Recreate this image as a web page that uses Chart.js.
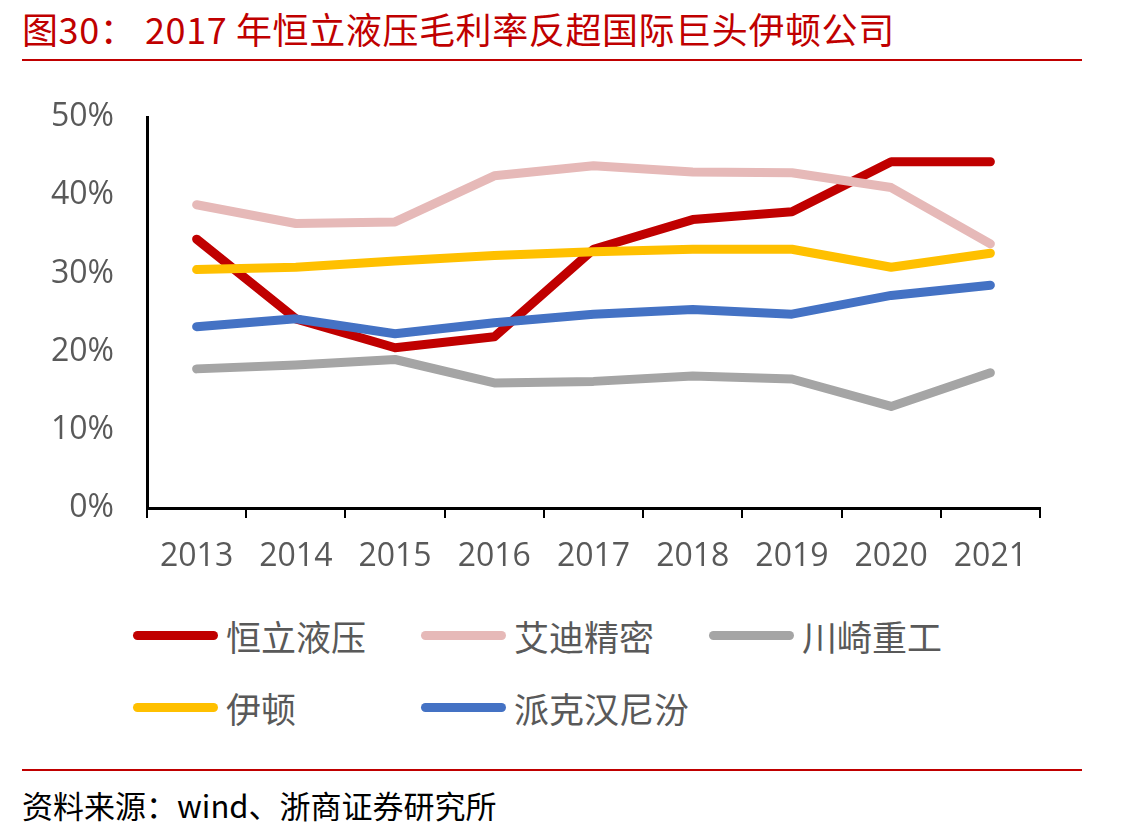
<!DOCTYPE html>
<html>
<head>
<meta charset="utf-8">
<script src="https://cdn.jsdelivr.net/npm/chart.js@4/dist/chart.umd.min.js"></script>
<style>
  body { margin: 0; width: 1141px; height: 838px; background: #fff; position: relative; overflow: hidden; }
  #title { position: absolute; left: 22px; top: 2px; color: #c00000; font-family: "Noto Sans CJK SC"; font-size: 36px; white-space: nowrap; letter-spacing: 0.6px; }
  .rule { position: absolute; left: 22px; width: 1060px; height: 2px; background: #c00000; }
  #wrap { position: absolute; left: 0; top: 65px; width: 1141px; height: 535px; }
  #legend { position: absolute; left: 0; top: 610px; width: 1141px; }
  .item { position: absolute; display: flex; align-items: center; height: 50px; }
  .swatch { width: 85px; height: 9px; border-radius: 5px; margin-right: 8px; }
  .label { font-family: "Noto Sans CJK SC"; font-size: 35px; color: #595959; }
  #source { position: absolute; left: 22px; top: 782px; font-family: "Noto Sans CJK SC"; font-size: 31px; color: #000; white-space: nowrap; }
</style>
</head>
<body>
<div id="title">图30： 2017 年恒立液压毛利率反超国际巨头伊顿公司</div>
<div class="rule" style="top:59px"></div>
<div id="wrap"><canvas id="chart"></canvas></div>
<div id="legend"></div>
<div class="rule" style="top:769px"></div>
<div id="source">资料来源：wind、浙商证券研究所</div>
<script>
window.onload = function () {
    // categories
    var years = ['2013', '2014', '2015', '2016', '2017', '2018', '2019', '2020', '2021']

    // gross margin, %
    var hengli = [34.4, 24.2, 20.5, 21.9, 33.1, 36.9, 37.9, 44.3, 44.3]
    var aidi = [38.8, 36.4, 36.6, 42.5, 43.8, 43.0, 42.9, 41.0, 33.8]
    var kawasaki = [17.8, 18.3, 19.0, 16.0, 16.2, 16.9, 16.5, 13.0, 17.3]
    var eaton = [30.5, 30.8, 31.6, 32.3, 32.8, 33.1, 33.1, 30.8, 32.6]
    var parker = [23.2, 24.2, 22.3, 23.7, 24.8, 25.4, 24.8, 27.2, 28.5]

    var names = ['恒立液压', '艾迪精密', '川崎重工', '伊顿', '派克汉尼汾']
    var colors = ['#c00000', '#e6b9b8', '#a5a5a5', '#ffc000', '#4472c4']
    var series = [hengli, aidi, kawasaki, eaton, parker]

    var datasets = []
    for (let i = 0; i < series.length; i++) {
        datasets.push({
            label: names[i],
            data: series[i],
            borderColor: colors[i],
            backgroundColor: colors[i],
            borderWidth: 9,
            borderCapStyle: 'round',
            borderJoinStyle: 'round',
            pointRadius: 0,
            tension: 0,
            order: series.length - i
        })
    }

    var tickFont = { family: 'Open Sans', size: 32 }

    var ctx = document.getElementById('chart').getContext('2d')
    var chart = new Chart(ctx, {
        type: 'line',
        data: { labels: years, datasets: datasets },
        options: {
            responsive: true,
            maintainAspectRatio: false,
            animation: false,
            layout: { padding: { top: 0, right: 101, bottom: 0, left: 0 } },
            plugins: { legend: { display: false }, tooltip: { enabled: false } },
            scales: {
                x: {
                    offset: true,
                    grid: { display: true, offset: true, drawOnChartArea: false, drawTicks: true, tickLength: 10, color: '#000', lineWidth: 2 },
                    border: { display: true, color: '#000', width: 3 },
                    ticks: { color: '#595959', font: tickFont, padding: 20, maxRotation: 0, autoSkip: false },
                    afterFit: function (s) { s.height = 92 }
                },
                y: {
                    min: 0,
                    max: 50,
                    grid: { display: false, drawTicks: false },
                    border: { display: true, color: '#000', width: 3 },
                    ticks: { stepSize: 10, color: '#595959', font: tickFont, padding: 33, callback: function (v) { return v + '%' } },
                    afterFit: function (s) { s.width = 147 }
                }
            }
        }
    })

    // legend, 3 per row
    var legend = document.getElementById('legend')
    var colX = [133, 421, 709]
    var rowY = [0, 72]
    for (let i = 0; i < names.length; i++) {
        let item = document.createElement('div')
        item.className = 'item'
        item.style.left = colX[i % 3] + 'px'
        item.style.top = rowY[Math.floor(i / 3)] + 'px'
        item.innerHTML = '<div class="swatch" style="background:' + colors[i] + '"></div><span class="label">' + names[i] + '</span>'
        legend.appendChild(item)
    }
}
</script>
</body>
</html>
